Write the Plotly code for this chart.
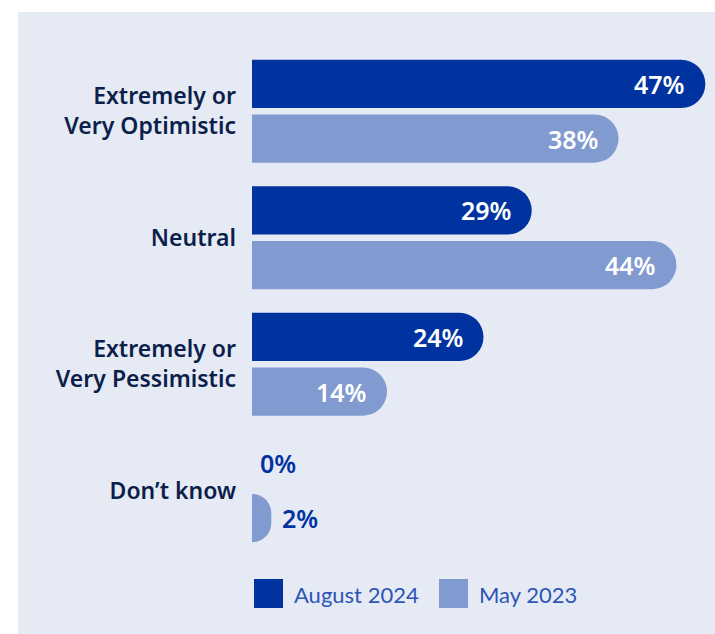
import plotly.graph_objects as go

# Survey results: share of respondents by outlook
categories = [
    "Extremely or<br>Very Optimistic",
    "Neutral",
    "Extremely or<br>Very Pessimistic",
    "Don\u2019t know",
]
aug_2024 = [47, 29, 24, 0]
may_2023 = [38, 44, 14, 2]
series_names = ["August 2024", "May 2023"]

DARK = "#0033a0"
LIGHT = "#819bd1"
PANEL = "#e6eaf5"
NAVY = "#0c1f4a"
FONT = "Noto Sans"
LEGEND_FONT = "Lato"

W, H = 715, 634
M_L, M_R, M_T, M_B = 252, 0, 48, 80
X_MAX = 48
PLOT_W = W - M_L - M_R
PLOT_H = H - M_T - M_B


def px_x(px):
    return (px - M_L) / PLOT_W


def px_y(py):
    return (H - M_B - py) / PLOT_H


fig = go.Figure()
for name, vals, col in [(series_names[0], aug_2024, DARK), (series_names[1], may_2023, LIGHT)]:
    fig.add_trace(go.Bar(
        y=categories, x=vals, orientation="h", name=name,
        marker=dict(color=col, line=dict(width=0)),
        hoverinfo="skip", showlegend=False,
    ))

# value labels: white inside long bars, blue just past short ones
slot = PLOT_H / len(categories) * (1 - 0.135) / 2
annotations = []
for vals, shift in [(aug_2024, slot / 2), (may_2023, -slot / 2)]:
    for cat, v in zip(categories, vals):
        inside = v >= 10
        annotations.append(dict(
            x=v, y=cat, xref="x", yref="y", text=f"{v}%", showarrow=False,
            xanchor="right" if inside else "left",
            xshift=-19 if inside else (6 if v == 0 else 9),
            yshift=shift,
            font=dict(family=FONT, size=25, color="white" if inside else DARK, weight=600),
        ))

# legend drawn as swatches + labels under the bars
shapes = [dict(type="rect", xref="paper", yref="paper",
               x0=px_x(18), x1=px_x(W + 5), y0=px_y(12), y1=px_y(H + 5),
               fillcolor=PANEL, line=dict(width=0), layer="below")]
legend_x = [254, 439]
for name, col, lx in zip(series_names, [DARK, LIGHT], legend_x):
    shapes.append(dict(type="rect", xref="paper", yref="paper",
                       x0=px_x(lx), x1=px_x(lx + 29), y0=px_y(579), y1=px_y(608),
                       fillcolor=col, line=dict(width=0)))
    annotations.append(dict(x=px_x(lx + 38), y=px_y(594), xref="paper", yref="paper",
                            text=name, showarrow=False, xanchor="left", yanchor="middle",
                            font=dict(family=LEGEND_FONT, size=22, color="#2c55b5", weight=400)))

fig.update_layout(
    width=W, height=H,
    margin=dict(l=M_L, r=M_R, t=M_T, b=M_B),
    paper_bgcolor="white", plot_bgcolor="rgba(0,0,0,0)",
    barmode="group", bargap=0.135, bargroupgap=0.12, barcornerradius=24,
    xaxis=dict(range=[0, X_MAX], visible=False, fixedrange=True),
    yaxis=dict(autorange="reversed", showgrid=False, zeroline=False, showline=False,
               ticks="", ticklabelstandoff=15,
               tickfont=dict(family=FONT, size=23, color=NAVY, weight=600)),
    shapes=shapes, annotations=annotations,
    showlegend=False,
)

fig.write_html("out.html")
